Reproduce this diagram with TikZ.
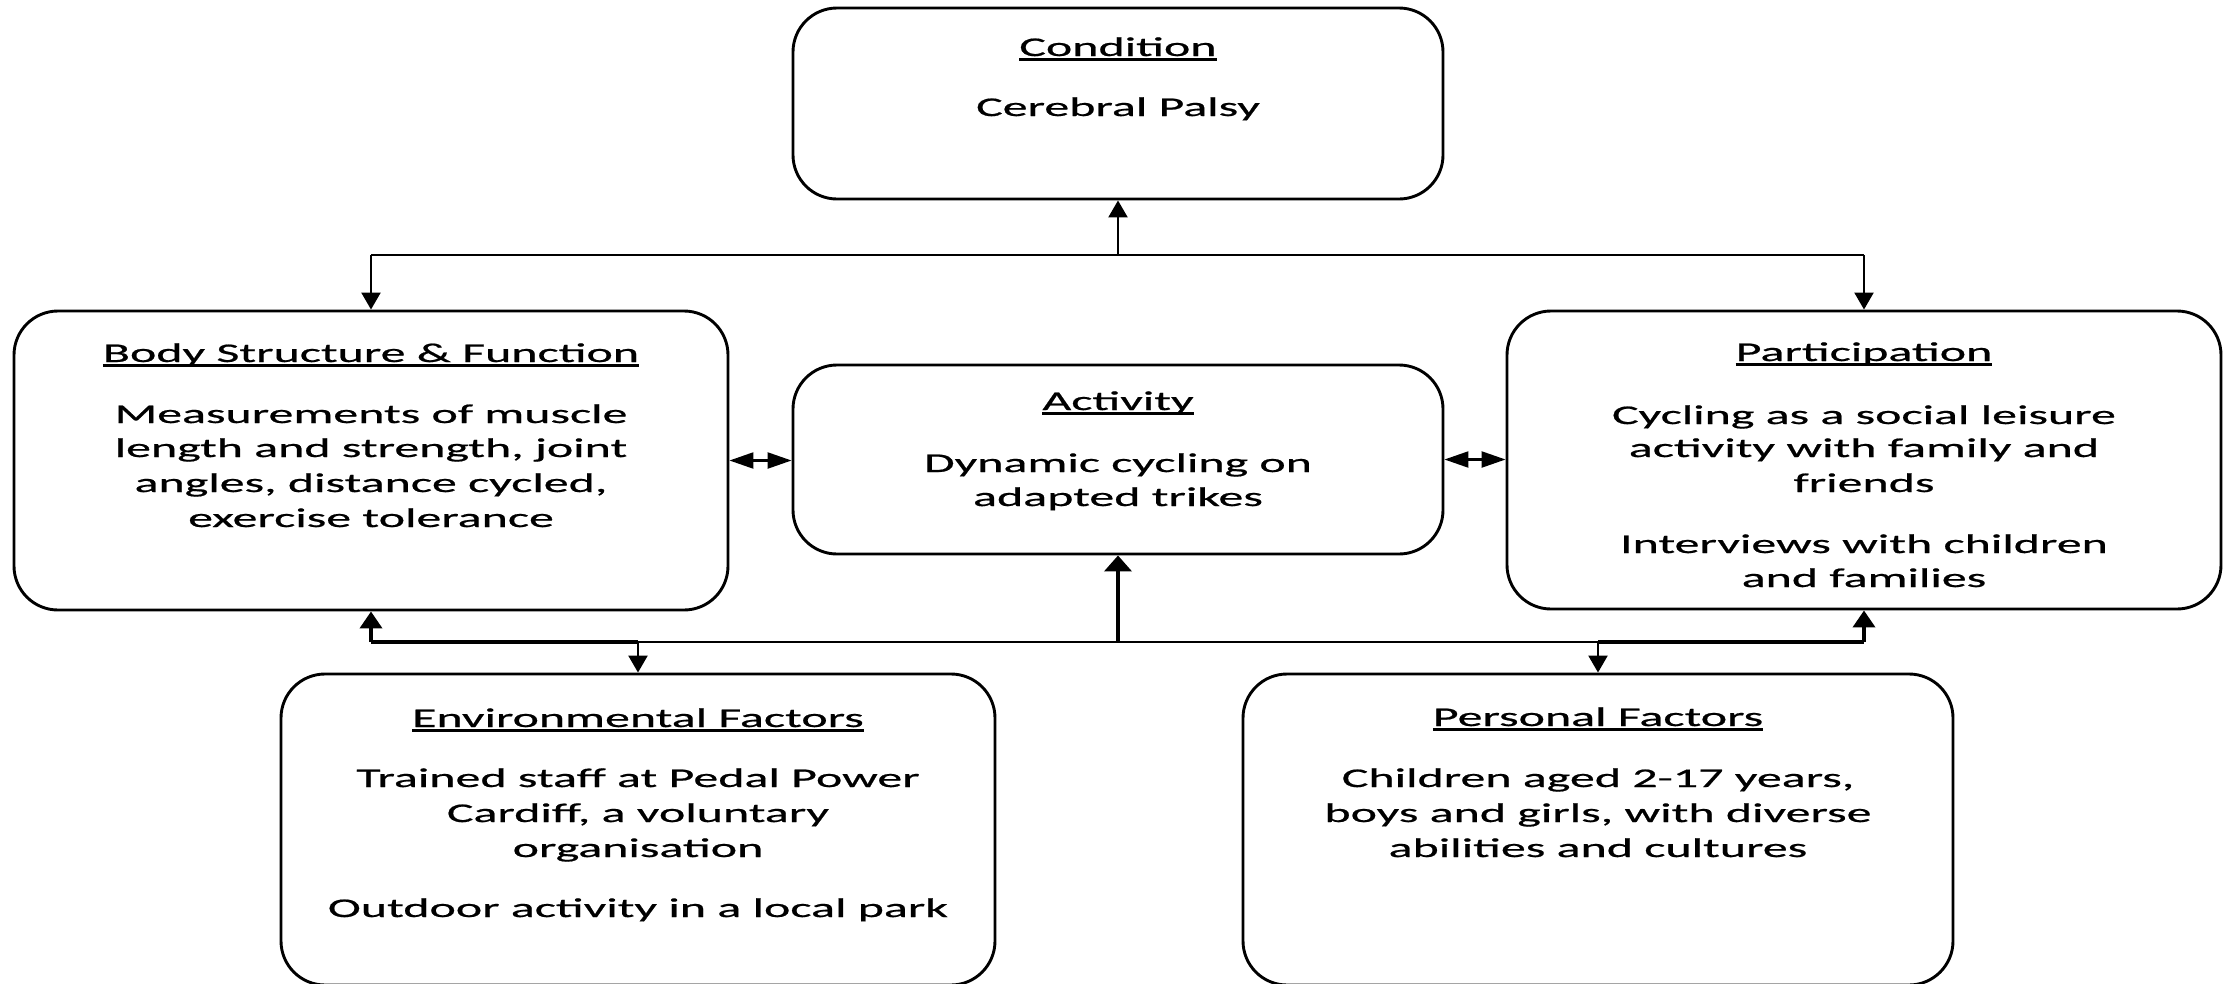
\documentclass[tikz,border=0pt]{standalone}
\usepackage{fontspec}
\setmainfont{Carlito}[FakeStretch=1.85,FakeBold=0.7]
\usetikzlibrary{arrows.meta}
\newcommand\ulx[1]{\setbox0\hbox{#1}\rlap{\rule[-4.5pt]{\wd0}{2.4pt}}\box0}
\begin{document}
\begin{tikzpicture}[x=1pt,y=-1pt,
  box/.style={draw, line width=2.9pt, rounded corners=44pt, inner sep=0pt},
  txt/.style={anchor=base, inner sep=0pt, font=\fontsize{27}{35}\selectfont},
  conn/.style={line width=2.3pt},
  heavy/.style={line width=3.8pt},
  arr/.style={conn, -{Triangle[length=17pt,width=19pt]}},
  harr/.style={heavy, -{Triangle[length=17pt,width=22pt]}},
  tarr/.style={line width=4.5pt, -{Triangle[length=16pt,width=27pt]}},
  darr/.style={line width=2.3pt, {Triangle[length=24pt,width=16pt]}-{Triangle[length=24pt,width=16pt]}}
]
\useasboundingbox[fill=white] (0,0) rectangle (2228,983);

% boxes
\node[box, minimum width=650pt, minimum height=191pt] (cond) at (1118,103.5) {};
\node[box, minimum width=650pt, minimum height=189pt] (act)  at (1118,459.5) {};
\node[box, minimum width=714pt, minimum height=299pt] (body) at (371,460.5) {};
\node[box, minimum width=714pt, minimum height=298pt] (part) at (1864,460) {};
\node[box, minimum width=714pt, minimum height=311pt] (env)  at (638,829.5) {};
\node[box, minimum width=710pt, minimum height=311pt] (pers) at (1598,829.5) {};

% texts: Condition
\node[txt] (condT)  at (1118,56)  {\ulx{Condition}};
\node[txt] (condL1) at (1118,116) {Cerebral Palsy};
% Activity
\node[txt] (actT)   at (1118,410) {\ulx{Activity}};
\node[txt] (actL1)  at (1118,472) {Dynamic cycling on};
\node[txt] (actL2)  at (1118,506) {adapted trikes};
% Body
\node[txt] (bodyT)  at (371,362) {\ulx{Body Structure \& Function}};
\node[txt] (bodyL1) at (371,423) {Measurements of muscle};
\node[txt] (bodyL2) at (371,457) {length and strength, joint};
\node[txt] (bodyL3) at (371,492) {angles, distance cycled,};
\node[txt] (bodyL4) at (371,527) {exercise tolerance};
% Participation
\node[txt] (partT)  at (1864,361) {\ulx{Participation}};
\node[txt] (partL1) at (1864,424) {Cycling as a social leisure};
\node[txt] (partL2) at (1864,457) {activity with family and};
\node[txt] (partL3) at (1864,492) {friends};
\node[txt] (partL4) at (1864,553) {Interviews with children};
\node[txt] (partL5) at (1864,587) {and families};
% Environmental
\node[txt] (envT)   at (638,727) {\ulx{Environmental Factors}};
\node[txt] (envL1)  at (638,787) {Trained staff at Pedal Power};
\node[txt] (envL2)  at (638,822) {Cardiff, a voluntary};
\node[txt] (envL3)  at (638,857) {organisation};
\node[txt] (envL4)  at (638,917) {Outdoor activity in a local park};
% Personal
\node[txt] (persT)  at (1598,726) {\ulx{Personal Factors}};
\node[txt] (persL1) at (1598,787) {Children aged 2-17 years,};
\node[txt] (persL2) at (1598,822) {boys and girls, with diverse};
\node[txt] (persL3) at (1598,857) {abilities and cultures};

% top connectors
\coordinate (jt) at (1118,255);
\draw[conn] (body.north |- jt) -- (part.north |- jt);
\draw[arr] (jt) -- (cond.south);
\draw[arr] (body.north |- jt) -- (body.north);
\draw[arr] (part.north |- jt) -- (part.north);

% bottom connectors
\coordinate (jb) at (1118,642);
\draw[conn] (env.north |- jb) -- (pers.north |- jb);
\draw[heavy] (body.south |- jb) -- (env.north |- jb);
\draw[heavy] (pers.north |- jb) -- (part.south |- jb);
\draw[harr] (body.south |- jb) -- (body.south);
\draw[harr] (part.south |- jb) -- (part.south);
\draw[arr] (env.north |- jb) -- (env.north);
\draw[arr] (pers.north |- jb) -- (pers.north);
\draw[tarr] (jb) -- (act.south);

% double arrows
\draw[darr] (body.east) -- (body.east -| act.west);
\draw[darr] (act.east) -- (act.east -| part.west);
\end{tikzpicture}
\end{document}
